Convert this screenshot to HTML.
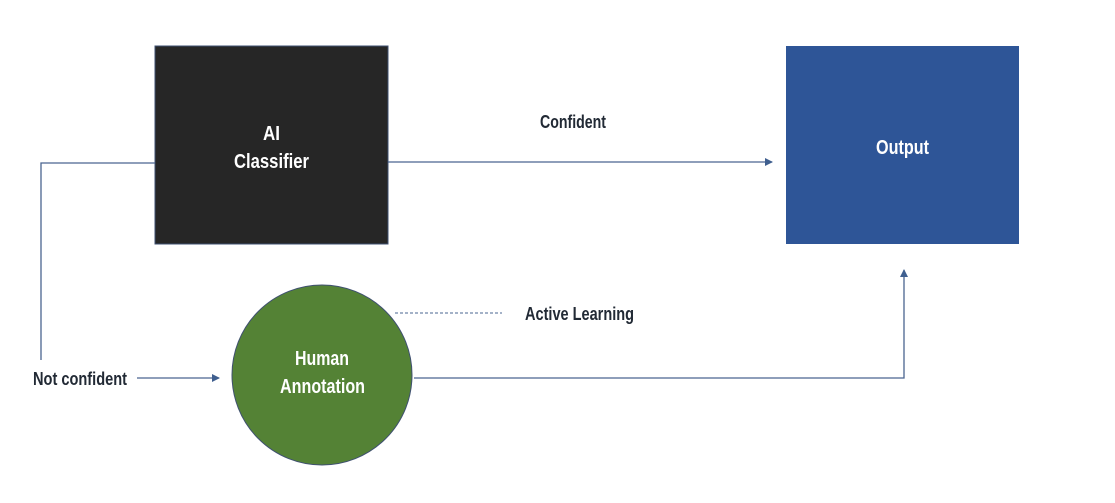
<!DOCTYPE html>
<html><head><style>
body{margin:0;background:#fff;width:1115px;height:498px;overflow:hidden}
svg text{font-family:"Liberation Sans Narrow","Liberation Sans",sans-serif;font-weight:bold}
</style></head><body>
<svg width="1115" height="498" viewBox="0 0 1115 498">
<defs><marker id="a" markerWidth="8" markerHeight="8" refX="7" refY="4" orient="auto" markerUnits="userSpaceOnUse"><path d="M0,0 L8,4 L0,8 z" fill="#3f5f8f"/></marker></defs>
<rect x="155" y="46" width="233" height="198" fill="#262626" stroke="#3f5070" stroke-width="1"/>
<rect x="786" y="46" width="233" height="198" fill="#2e5597"/>
<circle cx="322" cy="375" r="90" fill="#548235" stroke="#3f5070" stroke-width="1"/>
<g stroke="#4a6590" stroke-width="1.3" fill="none">
<polyline points="155,163 41,163 41,360"/>
<line x1="388" y1="162" x2="772" y2="162" marker-end="url(#a)"/>
<line x1="137" y1="378" x2="219" y2="378" marker-end="url(#a)"/>
<polyline points="414,378 904,378 904,270" marker-end="url(#a)"/>
<line x1="395" y1="313" x2="502" y2="313" stroke-dasharray="3,2" stroke-width="1"/>
</g>
<g fill="#fff" font-size="20" lengthAdjust="spacingAndGlyphs">
<text x="263" y="140" textLength="17" lengthAdjust="spacingAndGlyphs">AI</text>
<text x="234" y="168" textLength="75" lengthAdjust="spacingAndGlyphs">Classifier</text>
<text x="876" y="154" textLength="53" lengthAdjust="spacingAndGlyphs">Output</text>
<text x="295" y="365" textLength="54" lengthAdjust="spacingAndGlyphs">Human</text>
<text x="280" y="393" textLength="85" lengthAdjust="spacingAndGlyphs">Annotation</text>
</g>
<g fill="#222a35" font-size="18">
<text x="540" y="128" textLength="66" lengthAdjust="spacingAndGlyphs">Confident</text>
<text x="525" y="320" textLength="109" lengthAdjust="spacingAndGlyphs">Active Learning</text>
<text x="33" y="385" textLength="94" lengthAdjust="spacingAndGlyphs">Not confident</text>
</g>
</svg>
</body></html>
